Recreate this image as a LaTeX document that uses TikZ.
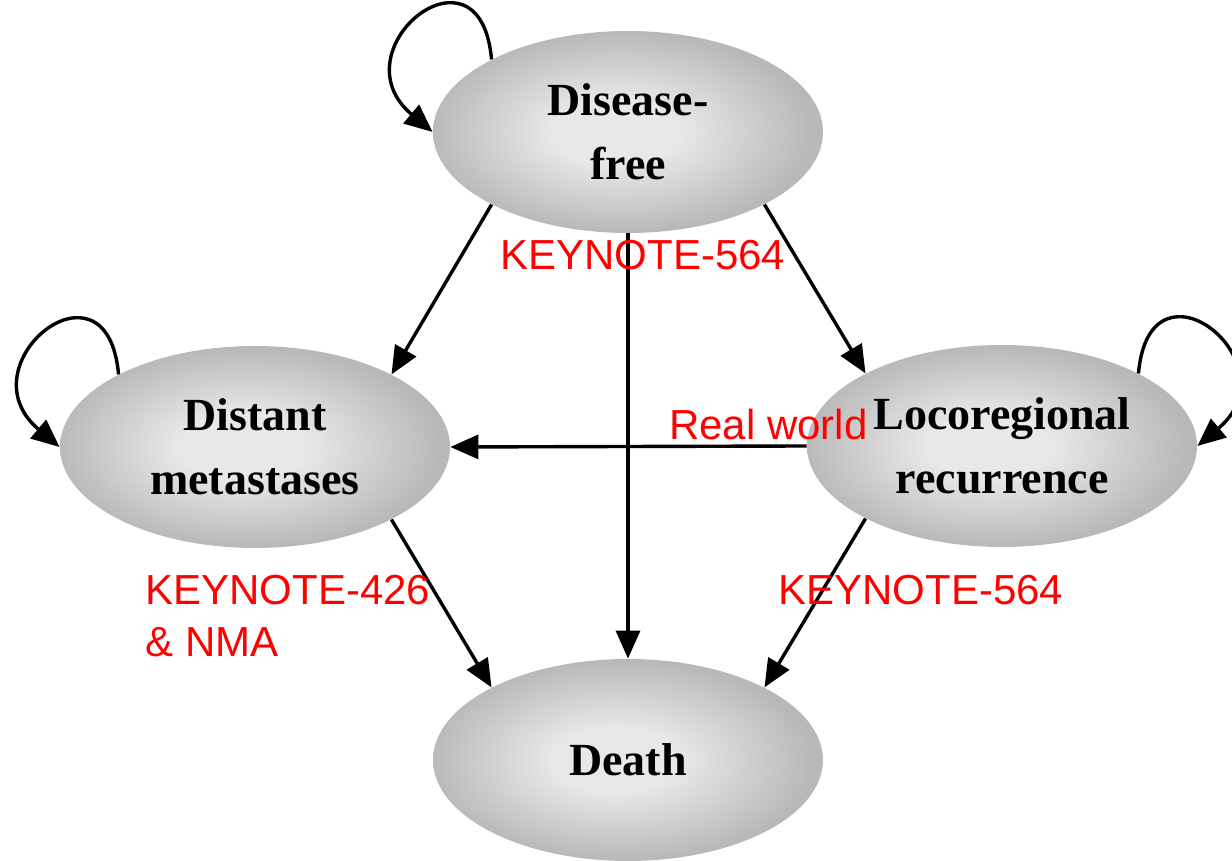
\documentclass[tikz,border=0pt]{standalone}
\usepackage{fontspec}
\usepackage{tikz}
\usetikzlibrary{shapes.geometric,arrows.meta}
\setmainfont{Liberation Serif}
\newfontfamily\arialfont{Liberation Sans}
\definecolor{statein}{gray}{0.91}
\definecolor{stateout}{gray}{0.72}
\definecolor{labred}{rgb}{1.0,0.0,0.0}
\pgfdeclareradialshading{stateshade}{\pgfpoint{-2bp}{0bp}}{color(0bp)=(statein); color(8bp)=(statein); color(25bp)=(stateout); color(50bp)=(stateout)}

\begin{document}
\begin{tikzpicture}
  [x=0.5pt,y=0.5pt,
   state/.style={ellipse,shading=stateshade,minimum width=195pt,minimum height=101pt,
     inner sep=0pt,align=center,font=\bfseries\fontsize{23}{32}\selectfont},
   lab/.style={text=labred,inner sep=0pt,font=\arialfont\fontsize{21}{25}\selectfont},
   arr/.style={-{Triangle[length=14pt,width=12pt]},line width=1.7pt}]

  \useasboundingbox (0,0) rectangle (1232,861);

  \node[state] (df) at (628,729) {Disease-\\free};
  \node[state] (dm) at (255,414) {Distant\\metastases};
  \node[state] (lr) at (1002,415) {Locoregional\\recurrence};
  \node[state] (death) at (628,101) {Death};

  \foreach \from/\to in {df.208/dm.28,df.332/lr.152,df.south/death.north,lr.west/dm.east,dm.332/death.152,lr.208/death.28}
    \draw[arr] (\from) -- (\to);

  \draw[arr] (df.152) to[out=95,in=140,looseness=3.5] (df.west);
  \draw[arr] (dm.152) to[out=95,in=140,looseness=3.5] (dm.west);
  \draw[arr] (lr.28) to[out=85,in=40,looseness=3.5] (lr.east);

  \node[lab,anchor=base west] (k564a) at (500,591) {KEYNOTE-564};
  \node[lab,anchor=base east] (rw) at (868,421) {Real world};
  \node[lab,anchor=base west] (k426) at (145,256) {KEYNOTE-426};
  \node[lab,anchor=base west] (nma) at (145,204) {\& NMA};
  \node[lab,anchor=base west] (k564b) at (778,256) {KEYNOTE-564};
\end{tikzpicture}
\end{document}
